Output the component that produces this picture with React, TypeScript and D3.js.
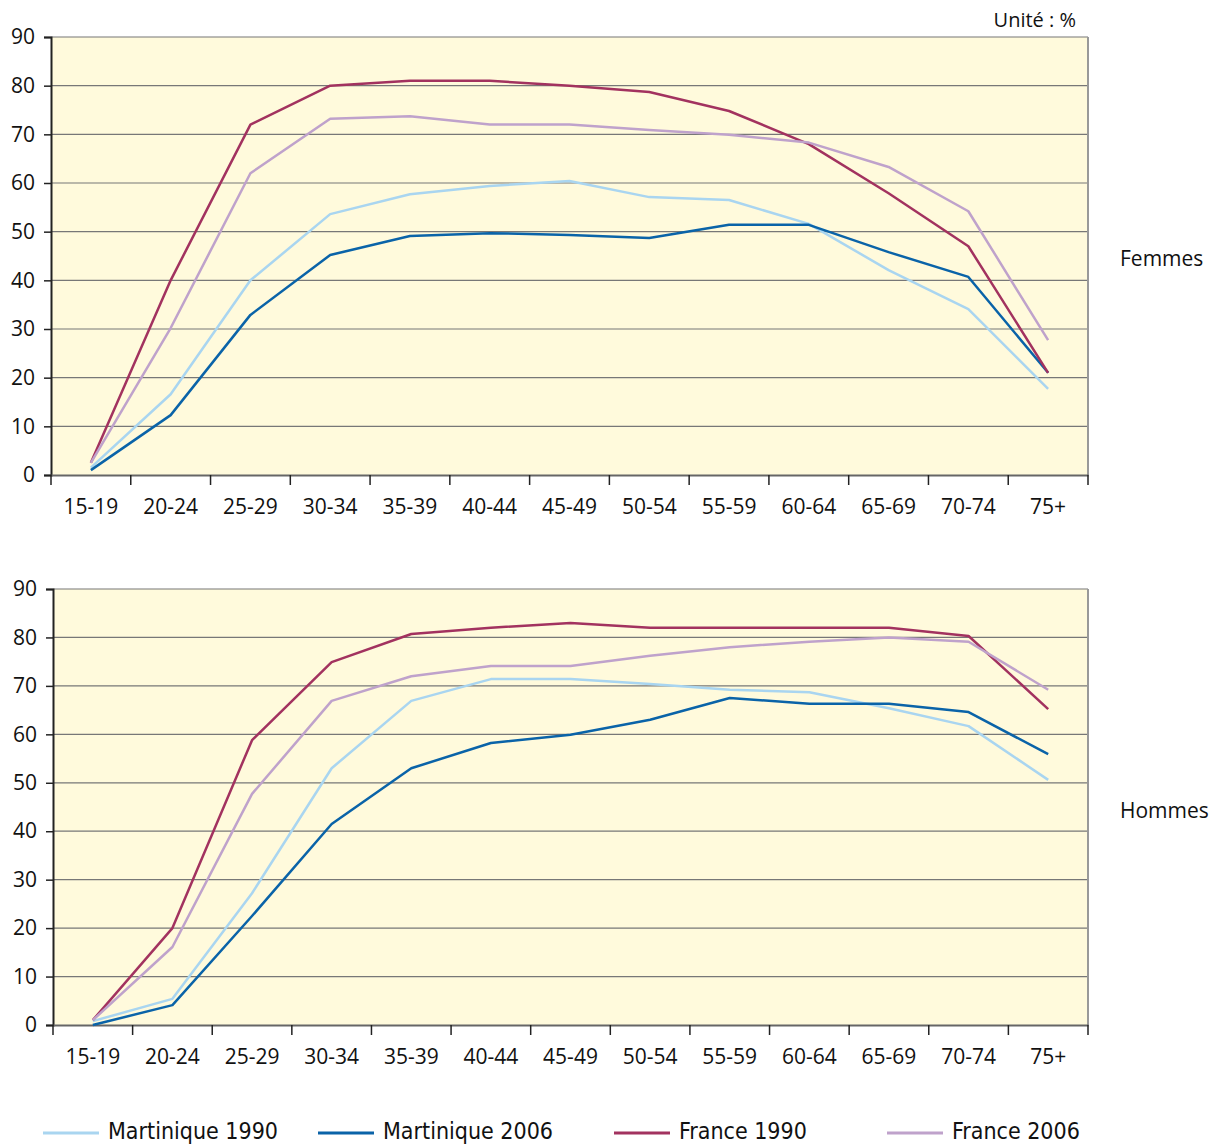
import * as d3 from 'd3';
import React, { useEffect, useRef } from 'react';

const ageGroups = ['15-19', '20-24', '25-29', '30-34', '35-39', '40-44', '45-49', '50-54', '55-59', '60-64', '65-69', '70-74', '75+'];
const yTicks = [0, 10, 20, 30, 40, 50, 60, 70, 80, 90];

const seriesNames = ['Martinique 1990', 'Martinique 2006', 'France 1990', 'France 2006'];
const seriesColors = ['#a9d5f0', '#0a63a8', '#a2325f', '#bfa2cb'];

// Femmes
const femMartinique1990 = [1.5, 16.6, 40, 53.6, 57.7, 59.4, 60.4, 57.1, 56.5, 51.6, 42.1, 34.1, 17.7];
const femMartinique2006 = [1, 12.3, 32.9, 45.2, 49.1, 49.7, 49.3, 48.7, 51.4, 51.4, 45.8, 40.7, 21];
const femFrance1990 = [2.5, 40, 72, 80, 81, 81, 80, 78.7, 74.8, 68, 57.9, 47, 21];
const femFrance2006 = [2.5, 30.2, 62, 73.2, 73.7, 72, 72, 70.9, 69.9, 68.3, 63.3, 54.2, 27.7];

// Hommes
const homMartinique1990 = [0.8, 5.4, 27.2, 53, 66.9, 71.4, 71.4, 70.4, 69.2, 68.7, 65.4, 61.7, 50.6];
const homMartinique2006 = [0, 4.1, 22.5, 41.5, 53, 58.2, 59.9, 63, 67.5, 66.3, 66.3, 64.6, 55.9];
const homFrance1990 = [1, 20, 58.8, 74.9, 80.7, 82, 83, 82, 82, 82, 82, 80.3, 65.2];
const homFrance2006 = [1, 16.1, 47.7, 66.9, 72, 74.1, 74.1, 76.2, 78, 79.1, 80, 79.1, 69.2];

const femmes = [femMartinique1990, femMartinique2006, femFrance1990, femFrance2006];
const hommes = [homMartinique1990, homMartinique2006, homFrance1990, homFrance2006];

const AXIS_FONT = "'Open Sans', 'DejaVu Sans', sans-serif";
const LEGEND_FONT = "'Liberation Sans Narrow', 'DejaVu Sans Condensed', 'Open Sans', sans-serif";

export default function App() {
  const ref = useRef<SVGSVGElement>(null);

  useEffect(() => {
    const svg = d3.select(ref.current);
    svg.selectAll('*').remove();

    function drawPanel(series: number[][], left: number, top: number, right: number, bottom: number, title: string, titleY: number) {
      const x = d3.scaleBand().domain(ageGroups).range([left, right]);
      const y = d3.scaleLinear().domain([0, 90]).range([bottom, top]);
      const g = svg.append('g');

      g.append('rect')
        .attr('x', left)
        .attr('y', top)
        .attr('width', right - left)
        .attr('height', bottom - top)
        .attr('fill', '#fffadc');

      // gridlines
      g.append('g')
        .selectAll('line')
        .data(yTicks.filter((t) => t > 0))
        .join('line')
        .attr('x1', left)
        .attr('x2', right)
        .attr('y1', (d) => y(d))
        .attr('y2', (d) => y(d))
        .attr('stroke', '#777')
        .attr('stroke-width', 1.2);

      // right border
      g.append('line')
        .attr('x1', right)
        .attr('x2', right)
        .attr('y1', top)
        .attr('y2', bottom)
        .attr('stroke', '#999')
        .attr('stroke-width', 2);

      // y axis
      const yAxis = g
        .append('g')
        .attr('transform', `translate(${left},0)`)
        .call(d3.axisLeft(y).tickValues(yTicks).tickSize(7).tickPadding(9));
      yAxis.select('.domain').attr('stroke', '#222').attr('stroke-width', 2);
      yAxis.selectAll('.tick line').attr('stroke', '#222').attr('stroke-width', 1.5);
      yAxis.selectAll('text').attr('font-family', AXIS_FONT).attr('font-size', 21).attr('fill', '#111');

      // x axis
      const xAxis = g
        .append('g')
        .attr('transform', `translate(0,${bottom})`)
        .call(d3.axisBottom(x).tickSize(0).tickPadding(24));
      xAxis.select('.domain').attr('stroke', '#666').attr('stroke-width', 2);
      xAxis.selectAll('text').attr('font-family', AXIS_FONT).attr('font-size', 21).attr('fill', '#111');

      const edges = ageGroups.map((a) => x(a) as number).concat([right]);
      g.append('g')
        .selectAll('line')
        .data(edges)
        .join('line')
        .attr('x1', (d) => d)
        .attr('x2', (d) => d)
        .attr('y1', bottom)
        .attr('y2', bottom + 10)
        .attr('stroke', '#222')
        .attr('stroke-width', 1.5);

      const line = d3
        .line<number>()
        .x((_, i) => (x(ageGroups[i]) as number) + x.bandwidth() / 2)
        .y((d) => y(d));

      series.forEach((values, i) => {
        g.append('path')
          .datum(values)
          .attr('fill', 'none')
          .attr('stroke', seriesColors[i])
          .attr('stroke-width', 2.5)
          .attr('stroke-linejoin', 'round')
          .attr('d', line);
      });

      g.append('text')
        .attr('x', 1120)
        .attr('y', titleY)
        .attr('font-family', AXIS_FONT)
        .attr('font-size', 21)
        .attr('fill', '#111')
        .text(title);
    }

    drawPanel(femmes, 51, 37, 1088, 475, 'Femmes', 266);
    drawPanel(hommes, 53, 589, 1088, 1025, 'Hommes', 818);

    svg
      .append('text')
      .attr('x', 1076)
      .attr('y', 27)
      .attr('text-anchor', 'end')
      .attr('font-family', AXIS_FONT)
      .attr('font-size', 20)
      .attr('fill', '#111')
      .text('Unité : %');

    // legend
    const legendX = [43, 318, 614, 887];
    const lg = svg.append('g');
    seriesNames.forEach((name, i) => {
      lg.append('line')
        .attr('x1', legendX[i])
        .attr('x2', legendX[i] + 56)
        .attr('y1', 1133)
        .attr('y2', 1133)
        .attr('stroke', seriesColors[i])
        .attr('stroke-width', 3);
      lg.append('text')
        .attr('x', legendX[i] + 65)
        .attr('y', 1139)
        .attr('font-family', LEGEND_FONT)
        .attr('font-size', 23)
        .attr('fill', '#111')
        .text(name);
    });
  }, []);

  return (
    <svg
      ref={ref}
      width={1216}
      height={1144}
      style={{ position: 'absolute', left: 0, top: 0, background: '#fff' }}
    />
  );
}
